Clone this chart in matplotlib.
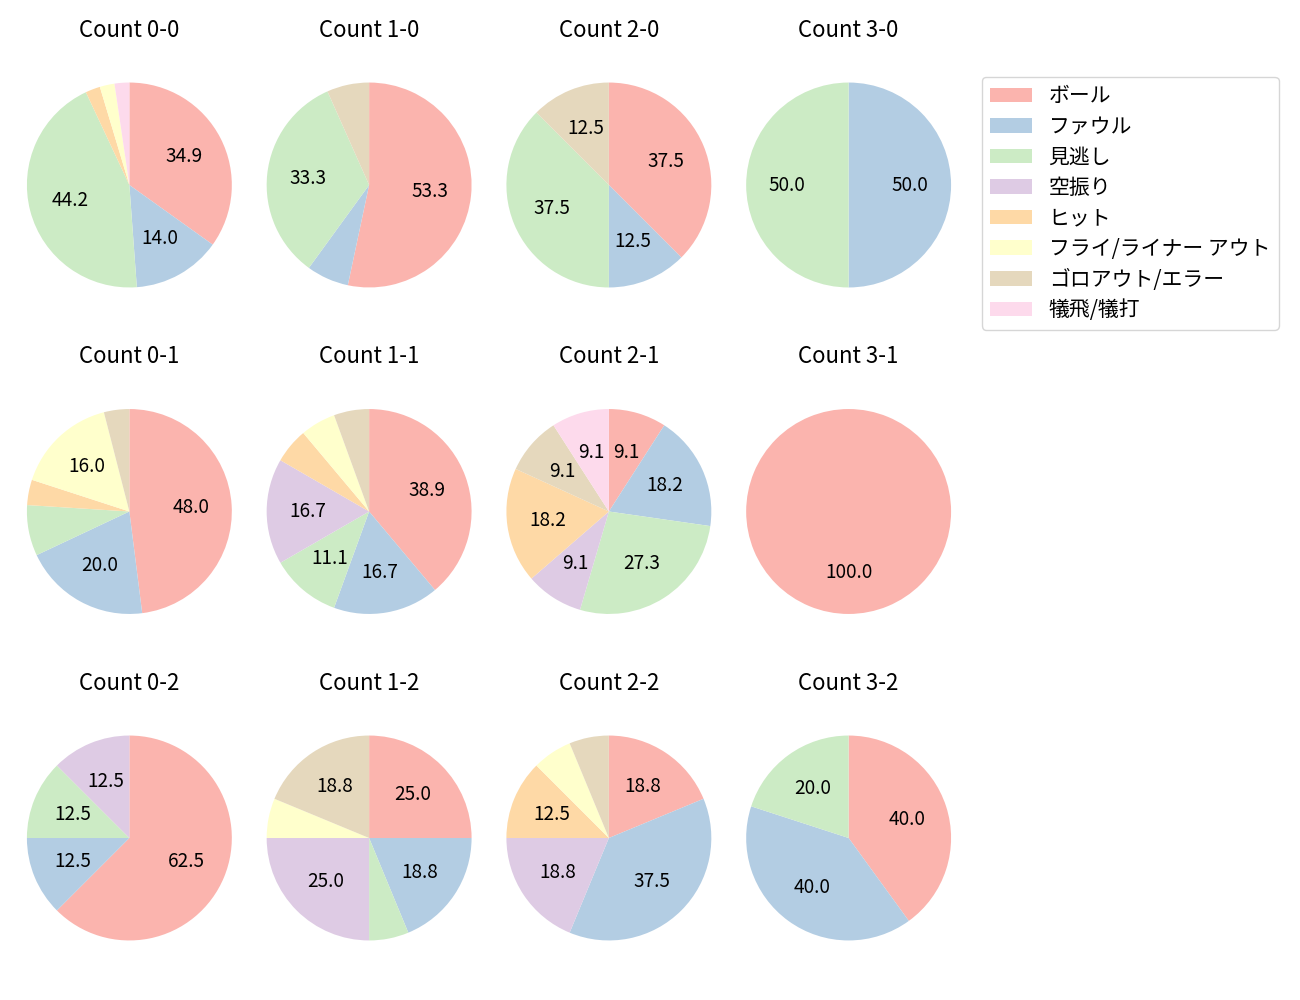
import matplotlib
matplotlib.use("Agg")
import matplotlib.pyplot as plt
from matplotlib.patches import Patch

plt.rcParams["font.family"] = ["Noto Sans CJK JP", "DejaVu Sans"]

CATEGORIES = [
    "ボール",
    "ファウル",
    "見逃し",
    "空振り",
    "ヒット",
    "フライ/ライナー アウト",
    "ゴロアウト/エラー",
    "犠飛/犠打",
]

COLORS = ["#fbb4ae", "#b3cde3", "#ccebc5", "#decbe4", "#fed9a6", "#ffffcc", "#e5d8bd", "#fddaec"]

# counts per category, one list per ball-strike count
COUNT_0_0 = [15, 6, 19, 0, 1, 1, 0, 1]
COUNT_1_0 = [8, 1, 5, 0, 0, 0, 1, 0]
COUNT_2_0 = [3, 1, 3, 0, 0, 0, 1, 0]
COUNT_3_0 = [0, 1, 1, 0, 0, 0, 0, 0]
COUNT_0_1 = [12, 5, 2, 0, 1, 4, 1, 0]
COUNT_1_1 = [7, 3, 2, 3, 1, 1, 1, 0]
COUNT_2_1 = [1, 2, 3, 1, 2, 0, 1, 1]
COUNT_3_1 = [1, 0, 0, 0, 0, 0, 0, 0]
COUNT_0_2 = [5, 1, 1, 1, 0, 0, 0, 0]
COUNT_1_2 = [4, 3, 1, 4, 0, 1, 3, 0]
COUNT_2_2 = [3, 6, 0, 3, 2, 1, 1, 0]
COUNT_3_2 = [2, 2, 1, 0, 0, 0, 0, 0]

GRID = [
    [("Count 0-0", COUNT_0_0), ("Count 1-0", COUNT_1_0), ("Count 2-0", COUNT_2_0), ("Count 3-0", COUNT_3_0)],
    [("Count 0-1", COUNT_0_1), ("Count 1-1", COUNT_1_1), ("Count 2-1", COUNT_2_1), ("Count 3-1", COUNT_3_1)],
    [("Count 0-2", COUNT_0_2), ("Count 1-2", COUNT_1_2), ("Count 2-2", COUNT_2_2), ("Count 3-2", COUNT_3_2)],
]


def pct_label(pct: float) -> str:
    return f"{pct:.1f}" if pct >= 9 else ""


def main() -> None:
    fig, axes = plt.subplots(3, 4, figsize=(13, 10), dpi=100)
    fig.subplots_adjust(left=0.0073, right=0.745, top=0.958, bottom=0.019, wspace=0.0, hspace=0.1416)

    for r, row in enumerate(GRID):
        for c, (title, values) in enumerate(row):
            ax = axes[r][c]
            ax.pie(
                values,
                colors=COLORS,
                startangle=90,
                counterclock=False,
                autopct=pct_label,
                pctdistance=0.6,
                textprops={"fontsize": 13.7},
            )
            ax.set_xlim(-1.17, 1.17)
            ax.set_ylim(-1.17, 1.17)
            ax.set_aspect("equal", adjustable="datalim")
            ax.set_title(title, fontsize=16, pad=3.7)

    handles = [Patch(facecolor=col, label=lab) for col, lab in zip(COLORS, CATEGORIES)]
    fig.legend(
        handles=handles,
        loc="upper left",
        bbox_to_anchor=(0.7554, 0.923),
        borderaxespad=0.0,
        fontsize=15,
        labelspacing=0.41,
        frameon=True,
    )

    fig.savefig("out.png", dpi=100)
    plt.close(fig)


if __name__ == "__main__":
    main()
